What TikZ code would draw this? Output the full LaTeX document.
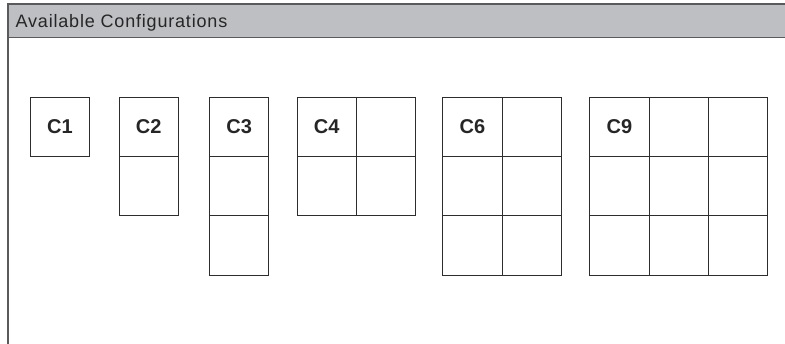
\documentclass[tikz,border=0pt]{standalone}
\usepackage{fontspec}
\setmainfont{Liberation Sans}
\usepackage{tikz}
\usetikzlibrary{positioning}
\usepackage{xcolor}
\definecolor{hdrgray}{RGB}{190,191,194}
\definecolor{framegray}{RGB}{90,90,92}
\definecolor{cellline}{RGB}{45,45,45}

\begin{document}
\begin{tikzpicture}[
  x=1pt, y=-1pt,
  cell/.style={draw=cellline, line width=1pt, minimum size=59.3pt, inner sep=0pt, outer sep=0pt},
  lbl/.style={font=\fontsize{20}{20}\selectfont\bfseries, text=black!85},
  frame/.style={draw=framegray, line width=1.4pt}
]
\useasboundingbox (0,0) rectangle (785,344);
\fill[hdrgray] (8,4) rectangle (785,37.5);
\draw[frame] (785,4) -- (8,4) -- (8,344);
\draw[frame] (8,37.5) -- (785,37.5);
\node[anchor=base west, inner sep=0pt, font=\fontsize{18}{18}\selectfont\addfontfeatures{LetterSpace=4.5}, text=black!85] (title) at (15.5,27.5) {Available Configurations};

\foreach \cname/\x/\cols/\rows in {C1/30.3/1/1, C2/119/1/2, C3/209.5/1/3, C4/297/2/2, C6/442.7/2/3, C9/589.7/3/3} {
  \foreach \r in {1,...,\rows} {
    \foreach \c in {1,...,\cols} {
      \node[cell] (\cname-\r-\c) at ({\x+(\c-0.5)*59.3}, {97.3+(\r-0.5)*59.3}) {};
    }
  }
  \node[lbl] at (\cname-1-1) {\cname};
}
\end{tikzpicture}
\end{document}
